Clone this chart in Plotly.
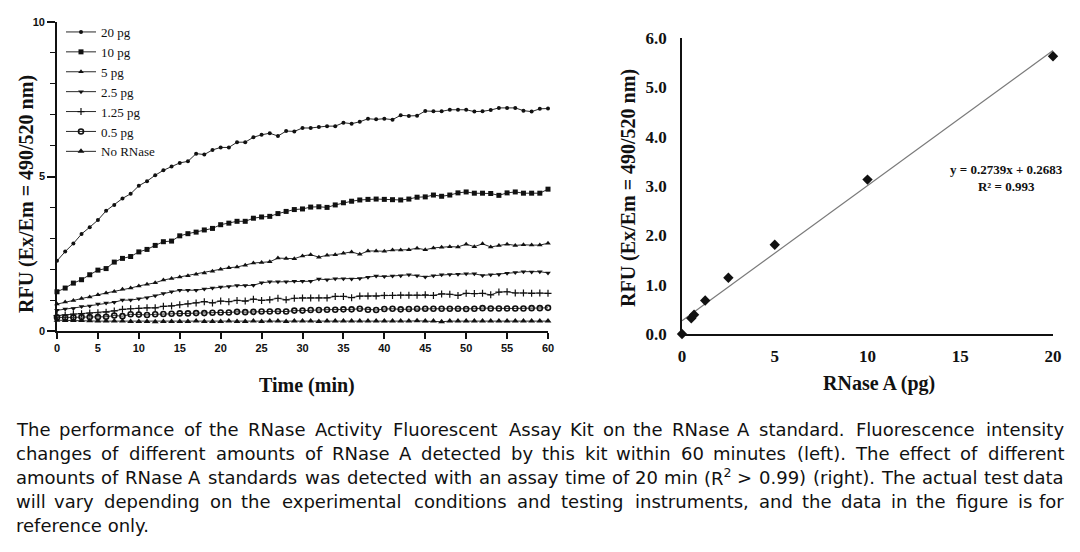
import plotly.graph_objects as go

# ---------------- data ----------------
time_min = list(range(0, 61))

series_names = ["20 pg", "10 pg", "5 pg", "2.5 pg", "1.25 pg", "0.5 pg", "No RNase"]

rfu_20pg = [2.27, 2.57, 2.83, 3.14, 3.36, 3.59, 3.89, 4.08, 4.29, 4.44,
            4.70, 4.85, 5.04, 5.20, 5.32, 5.44, 5.49, 5.74, 5.71, 5.86,
            5.94, 5.94, 6.11, 6.11, 6.27, 6.35, 6.40, 6.31, 6.47, 6.46,
            6.57, 6.57, 6.60, 6.63, 6.63, 6.74, 6.71, 6.77, 6.87, 6.85,
            6.87, 6.84, 6.98, 6.96, 6.97, 7.12, 7.11, 7.11, 7.16, 7.16,
            7.16, 7.10, 7.11, 7.15, 7.22, 7.22, 7.22, 7.13, 7.10, 7.19,
            7.20]
rfu_10pg = [1.27, 1.39, 1.55, 1.66, 1.82, 1.97, 2.02, 2.23, 2.35, 2.41,
            2.56, 2.64, 2.77, 2.89, 2.91, 3.08, 3.15, 3.20, 3.27, 3.32,
            3.44, 3.49, 3.55, 3.55, 3.65, 3.69, 3.71, 3.80, 3.87, 3.93,
            3.95, 4.01, 4.02, 4.00, 4.08, 4.15, 4.20, 4.24, 4.26, 4.27,
            4.26, 4.25, 4.24, 4.27, 4.33, 4.34, 4.40, 4.36, 4.40, 4.47,
            4.50, 4.46, 4.46, 4.45, 4.39, 4.47, 4.50, 4.46, 4.46, 4.46,
            4.59]
rfu_5pg = [0.87, 0.94, 0.99, 1.05, 1.10, 1.17, 1.23, 1.28, 1.35, 1.39,
           1.46, 1.51, 1.56, 1.65, 1.70, 1.75, 1.79, 1.84, 1.88, 1.93,
           2.00, 2.05, 2.07, 2.13, 2.20, 2.22, 2.24, 2.36, 2.35, 2.34,
           2.43, 2.47, 2.39, 2.45, 2.47, 2.52, 2.56, 2.48, 2.59, 2.59,
           2.58, 2.62, 2.62, 2.63, 2.68, 2.63, 2.69, 2.71, 2.73, 2.72,
           2.81, 2.73, 2.82, 2.72, 2.77, 2.81, 2.77, 2.79, 2.78, 2.78,
           2.84]
rfu_2_5pg = [0.67, 0.71, 0.73, 0.79, 0.81, 0.87, 0.91, 0.93, 1.00, 1.00,
             1.04, 1.08, 1.14, 1.21, 1.27, 1.32, 1.32, 1.32, 1.36, 1.39,
             1.42, 1.44, 1.47, 1.47, 1.48, 1.56, 1.59, 1.59, 1.59, 1.61,
             1.61, 1.61, 1.68, 1.66, 1.69, 1.69, 1.68, 1.70, 1.74, 1.78,
             1.76, 1.78, 1.79, 1.82, 1.79, 1.75, 1.79, 1.82, 1.83, 1.84,
             1.85, 1.85, 1.80, 1.82, 1.83, 1.87, 1.89, 1.92, 1.91, 1.92,
             1.88]
rfu_1_25pg = [0.50, 0.52, 0.55, 0.56, 0.58, 0.59, 0.61, 0.65, 0.70, 0.72,
              0.73, 0.75, 0.75, 0.80, 0.81, 0.85, 0.88, 0.91, 0.95, 0.91,
              0.97, 0.95, 0.99, 0.97, 1.03, 0.99, 1.01, 1.06, 1.01, 1.06,
              1.07, 1.07, 1.07, 1.07, 1.12, 1.12, 1.08, 1.13, 1.13, 1.13,
              1.15, 1.15, 1.16, 1.16, 1.16, 1.17, 1.15, 1.20, 1.19, 1.15,
              1.22, 1.21, 1.22, 1.17, 1.26, 1.27, 1.23, 1.23, 1.22, 1.23,
              1.22]
rfu_0_5pg = [0.44, 0.43, 0.44, 0.45, 0.45, 0.45, 0.46, 0.50, 0.48, 0.54,
             0.53, 0.52, 0.54, 0.55, 0.56, 0.57, 0.57, 0.58, 0.58, 0.59,
             0.60, 0.60, 0.62, 0.61, 0.62, 0.63, 0.63, 0.64, 0.63, 0.66,
             0.66, 0.68, 0.68, 0.69, 0.69, 0.70, 0.70, 0.72, 0.69, 0.68,
             0.71, 0.72, 0.70, 0.71, 0.72, 0.72, 0.72, 0.72, 0.72, 0.72,
             0.71, 0.72, 0.74, 0.73, 0.73, 0.73, 0.73, 0.73, 0.74, 0.74,
             0.75]
rfu_no_rnase = [0.35, 0.34, 0.34, 0.34, 0.33, 0.32, 0.32, 0.32, 0.32, 0.31,
                0.31, 0.31, 0.30, 0.31, 0.31, 0.31, 0.31, 0.32, 0.31, 0.31,
                0.31, 0.32, 0.31, 0.31, 0.32, 0.31, 0.32, 0.32, 0.31, 0.32,
                0.32, 0.32, 0.31, 0.32, 0.32, 0.32, 0.32, 0.32, 0.32, 0.32,
                0.32, 0.32, 0.32, 0.32, 0.33, 0.32, 0.32, 0.30, 0.32, 0.32,
                0.32, 0.32, 0.32, 0.32, 0.32, 0.32, 0.32, 0.32, 0.32, 0.32,
                0.32]

series_values = [rfu_20pg, rfu_10pg, rfu_5pg, rfu_2_5pg, rfu_1_25pg, rfu_0_5pg, rfu_no_rnase]

# standard curve (20 min)
rnase_amount_pg = [0, 0.5, 0.65, 1.25, 2.5, 5, 10, 20]
rfu_20min = [0.0, 0.32, 0.39, 0.68, 1.14, 1.81, 3.13, 5.63]
fit_slope = 0.2739
fit_intercept = 0.2683
fit_x_range = [0, 20]

left_y_ticks = [0, 5, 10]
left_x_ticks = [0, 5, 10, 15, 20, 25, 30, 35, 40, 45, 50, 55, 60]
right_y_ticks = [0, 1, 2, 3, 4, 5, 6]
right_y_ticklabels = ["0.0", "1.0", "2.0", "3.0", "4.0", "5.0", "6.0"]
right_x_ticks = [0, 5, 10, 15, 20]

caption_lines = [
    "The performance of the RNase Activity Fluorescent Assay Kit on the RNase A standard. Fluorescence intensity",
    "changes of different amounts of RNase A detected by this kit within 60 minutes (left). The effect of different",
    "amounts of RNase A standards was detected with an assay time of 20 min (R<sup>2</sup> &gt; 0.99) (right). The actual test data",
    "will vary depending on the experimental conditions and testing instruments, and the data in the figure is for",
    "reference only.",
]

# ---------------- styles / geometry ----------------
SERIF = "Liberation Serif, Times New Roman, serif"
SANS = "DejaVu Sans, sans-serif"
ARIAL = "Liberation Sans, Arial, sans-serif"
INK = "#111111"
WIN_W, WIN_H = 1080, 552
BODY = 8  # default page margin around the plot div
W, H = WIN_W - 2 * BODY, WIN_H - 2 * BODY


def px(x):
    return (x - BODY) / W


def py(y):
    return 1 - (y - BODY) / H


marker_styles = [
    dict(symbol="circle", size=4),
    dict(symbol="square", size=5),
    dict(symbol="triangle-up", size=5),
    dict(symbol="triangle-down", size=5),
    dict(symbol="cross-thin", size=5, line=dict(width=1.2, color=INK)),
    dict(symbol="circle-open", size=5, line=dict(width=1.6, color=INK)),
    dict(symbol="triangle-up", size=6),
]

fig = go.Figure()

for name, vals, ms in zip(series_names, series_values, marker_styles):
    m = dict(color=INK)
    m.update(ms)
    fig.add_trace(go.Scatter(
        x=time_min, y=vals, name=name, mode="lines+markers",
        line=dict(color=INK, width=0.9), marker=m,
        xaxis="x", yaxis="y", cliponaxis=False,
    ))

fig.add_trace(go.Scatter(
    x=fit_x_range, y=[fit_slope * v + fit_intercept for v in fit_x_range],
    mode="lines", line=dict(color="#7a7a7a", width=1.2),
    showlegend=False, xaxis="x2", yaxis="y2", cliponaxis=False,
))
fig.add_trace(go.Scatter(
    x=rnase_amount_pg, y=rfu_20min, mode="markers",
    marker=dict(symbol="diamond", size=8, color=INK),
    showlegend=False, xaxis="x2", yaxis="y2", cliponaxis=False,
))

axis_common = dict(showline=True, linecolor=INK, linewidth=1.6, showgrid=False,
                   zeroline=False, automargin=False, tickmode="array")

fig.update_layout(
    template="none",
    width=W, height=H,
    margin=dict(l=0, r=0, t=0, b=0),
    paper_bgcolor="white", plot_bgcolor="white",
    showlegend=True,
    legend=dict(
        x=px(61), y=py(17), xanchor="left", yanchor="top",
        font=dict(family=SERIF, size=13, color=INK),
        bgcolor="rgba(0,0,0,0)", itemwidth=30, tracegroupgap=0,
    ),
    xaxis=dict(
        axis_common, domain=[px(57), px(548)], range=[0, 60], anchor="y",
        tickvals=left_x_ticks, ticks="outside", ticklen=6,
        tickwidth=1.5, tickcolor=INK,
        tickfont=dict(family=ARIAL, size=11, color=INK, weight="bold"),
    ),
    yaxis=dict(
        axis_common, domain=[py(331), py(22)], range=[0, 10], anchor="x",
        tickvals=left_y_ticks, ticks="outside", ticklen=8,
        tickwidth=1.5, tickcolor=INK,
        minor=dict(dtick=1, ticks="outside", ticklen=5, tickwidth=1.2, tickcolor=INK),
        tickfont=dict(family=ARIAL, size=11, color=INK, weight="bold"),
    ),
    xaxis2=dict(
        axis_common, domain=[px(682), px(1053)], range=[0, 20], anchor="y2",
        tickvals=right_x_ticks, ticks="", ticklabelstandoff=6,
        tickfont=dict(family=SERIF, size=17, color=INK, weight="bold"),
    ),
    yaxis2=dict(
        axis_common, domain=[py(334), py(38)], range=[0, 6], anchor="x2",
        tickvals=right_y_ticks, ticktext=right_y_ticklabels, ticks="",
        ticklabelstandoff=10,
        tickfont=dict(family=SERIF, size=17, color=INK, weight="bold"),
    ),
)

# axis titles as annotations (paper coordinates)
title_font = dict(family=SERIF, size=20, color=INK)
axis_titles = [
    ("<b>RFU (Ex/Em = 490/520 nm)</b>", 27, 194, -90),
    ("<b>Time (min)</b>", 307, 385, 0),
    ("<b>RFU (Ex/Em = 490/520 nm)</b>", 629, 188, -90),
    ("<b>RNase A (pg)</b>", 879, 383, 0),
]
for txt, xx, yy, ang in axis_titles:
    fig.add_annotation(x=px(xx), y=py(yy), xref="paper", yref="paper",
                       xanchor="center", yanchor="middle", showarrow=False,
                       text=txt, textangle=ang, font=title_font)

fig.add_annotation(
    x=17.5, y=3.16, xref="x2", yref="y2", showarrow=False,
    text="<b>y = 0.2739x + 0.2683</b><br><b>R² = 0.993</b>",
    font=dict(family=SERIF, size=13, color=INK), align="center",
)

# ---------------- justified caption ----------------
# DejaVu Sans advance widths (1/2048 em)
DV_W = {
    ' ': 651, '(': 799, ')': 799, '+': 1716, ',': 651, '-': 739, '.': 651, '/': 690,
    ':': 690, '<': 1716, '=': 1716, '>': 1716,
    'A': 1401, 'B': 1405, 'C': 1430, 'D': 1577, 'E': 1294, 'F': 1178, 'G': 1587,
    'H': 1540, 'I': 604, 'J': 604, 'K': 1343, 'L': 1141, 'M': 1767, 'N': 1532,
    'O': 1612, 'P': 1235, 'Q': 1612, 'R': 1423, 'S': 1300, 'T': 1251, 'U': 1499,
    'V': 1401, 'W': 2025, 'X': 1403, 'Y': 1251, 'Z': 1403,
    'a': 1255, 'b': 1300, 'c': 1126, 'd': 1300, 'e': 1260, 'f': 721, 'g': 1300,
    'h': 1298, 'i': 569, 'j': 569, 'k': 1186, 'l': 569, 'm': 1995, 'n': 1298,
    'o': 1253, 'p': 1300, 'q': 1300, 'r': 842, 's': 1067, 't': 803, 'u': 1298,
    'v': 1212, 'w': 1675, 'x': 1212, 'y': 1212, 'z': 1075,
}
for d in "0123456789":
    DV_W[d] = 1303
WIDTH_CORR = 1.04  # rendered glyphs run slightly wider than the table


def word_em(word):
    w = word.replace("&gt;", ">")
    total = 0.0
    i = 0
    while i < len(w):
        if w.startswith("<sup>", i):
            j = w.index("</sup>", i)
            total += 0.7 * sum(DV_W.get(c, 1300) for c in w[i + 5:j]) / 2048
            i = j + 6
            continue
        total += DV_W.get(w[i], 1300) / 2048
        i += 1
    return total * WIDTH_CORR


CAP_SIZE = 18
CAP_LEFT, CAP_RIGHT = 14, 1066
caption_y = [429, 453, 477, 501, 525]
cap_font = dict(family=SANS, size=CAP_SIZE, color=INK)

for li, (line, yy) in enumerate(zip(caption_lines, caption_y)):
    if li == len(caption_lines) - 1:
        fig.add_annotation(x=px(CAP_LEFT), y=py(yy), xref="paper", yref="paper",
                           xanchor="left", yanchor="middle", showarrow=False,
                           text=line, font=cap_font)
        continue
    words = line.split(" ")
    widths = [word_em(w) * CAP_SIZE for w in words]
    gap = (CAP_RIGHT - CAP_LEFT - sum(widths)) / (len(words) - 1)
    xcur = CAP_LEFT
    n = len(words)
    for wi, (w, ww) in enumerate(zip(words, widths)):
        if wi == 0:
            xa, xpos = "left", CAP_LEFT
        elif wi == n - 1:
            xa, xpos = "right", CAP_RIGHT
        else:
            xa, xpos = "center", xcur + ww / 2
        fig.add_annotation(x=px(xpos), y=py(yy), xref="paper", yref="paper",
                           xanchor=xa, yanchor="middle", showarrow=False,
                           text=w, font=cap_font)
        xcur += ww + gap

fig.write_html("out.html")
